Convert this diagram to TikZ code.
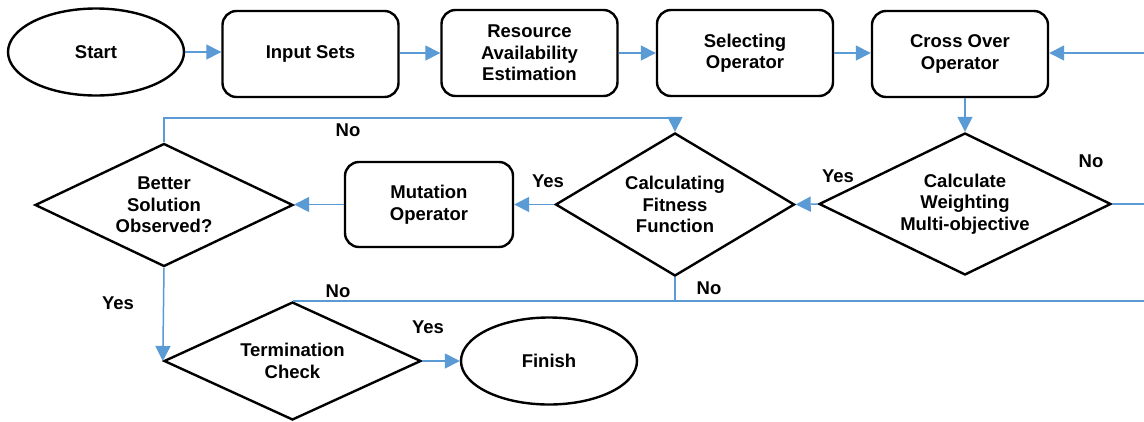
\documentclass[tikz,border=0pt]{standalone}
\usepackage{fontspec}
\setmainfont{Liberation Sans}
\usetikzlibrary{shapes.geometric,arrows.meta,calc}
\definecolor{flowblue}{RGB}{91,155,213}
\begin{document}
\begin{tikzpicture}[x=1pt,y=-1pt,
  every node/.style={font=\fontsize{18.5}{21.5}\selectfont\bfseries, align=center, inner sep=0pt},
  procbox/.style={draw, line width=2.4pt, rounded corners=14pt, minimum width=176pt, minimum height=86pt},
  decision/.style={draw, diamond, shape aspect=2.2, line width=2.4pt},
  terminal/.style={draw, ellipse, line width=2.4pt, minimum width=176pt, minimum height=87pt},
  flow/.style={draw=flowblue, line width=1.5pt},
  arr/.style={flow, -{Triangle[length=15pt,width=15pt]}},
  lbl/.style={}]
\useasboundingbox[fill=white] (0,0) rectangle (1144,421);

% top row
\node[terminal] (start) at (96,52) {Start};
\node[procbox] (input) at (310.5,54) {Input Sets};
\node[procbox] (res) at (529.5,53) {Resource\\Availability\\Estimation};
\node[procbox] (sel) at (745,53) {Selecting\\Operator};
\node[procbox] (cross) at (960,54) {Cross Over\\Operator};

% middle row
\node[decision, minimum width=292pt, minimum height=142pt] (cw) at (965,204) {Calculate\\Weighting\\Multi-objective};
\node[decision, minimum width=239pt, minimum height=143pt] (cf) at (675,204.5) {Calculating\\Fitness\\Function};
\node[procbox, minimum width=168pt, minimum height=85pt] (mut) at (429,204.5) {Mutation\\Operator};
\node[decision, minimum width=258pt, minimum height=123pt] (bso) at (164,205) {Better\\Solution\\Observed?};

% bottom row
\node[decision, minimum width=257pt, minimum height=118pt] (tc) at (292.5,361) {Termination\\Check};
\node[terminal] (fin) at (549,361) {Finish};

% border coordinates
\coordinate (rin) at (1144,53);
\coordinate (rout) at (1144,204);
\coordinate (rbot) at (1144,302);
\coordinate (topy) at (0,118);

% connectors
\draw[arr] (start.east) -- (start.east -| input.west);
\draw[arr] (input.east |- res.west) -- (res.west);
\draw[arr] (res.east) -- (res.east -| sel.west);
\draw[arr] (sel.east) -- (sel.east -| cross.west);
\draw[arr] (rin) -- (rin -| cross.east);
\draw[arr] (cw.north |- cross.south) -- (cw.north);
\draw[arr] (cw.west) -- (cf.east);
\draw[flow] (cw.east) -- (rout);
\draw[arr] (cf.west) -- (cf.west -| mut.east);
\draw[arr] (mut.west) -- (mut.west -| bso.east);
\draw[arr] (bso.north) -- (bso.north |- topy) -- (cf.north |- topy) -- (cf.north);
\draw[arr] (bso.south) -- (tc.west);
\draw[arr] (tc.east) -- (tc.east -| fin.west);
\draw[flow] (tc.north) -- (tc.north -| rbot);
\draw[flow] (cf.south) -- (cf.south |- tc.north);

% labels
\node[lbl] (l1) at (348,130) {No};
\node[lbl] (l2) at (548,181) {Yes};
\node[lbl] (l3) at (838,176) {Yes};
\node[lbl] (l4) at (1091,161) {No};
\node[lbl] (l5) at (709,288) {No};
\node[lbl] (l6) at (338,291) {No};
\node[lbl] (l7) at (118,303) {Yes};
\node[lbl] (l8) at (428,327) {Yes};
\end{tikzpicture}
\end{document}
